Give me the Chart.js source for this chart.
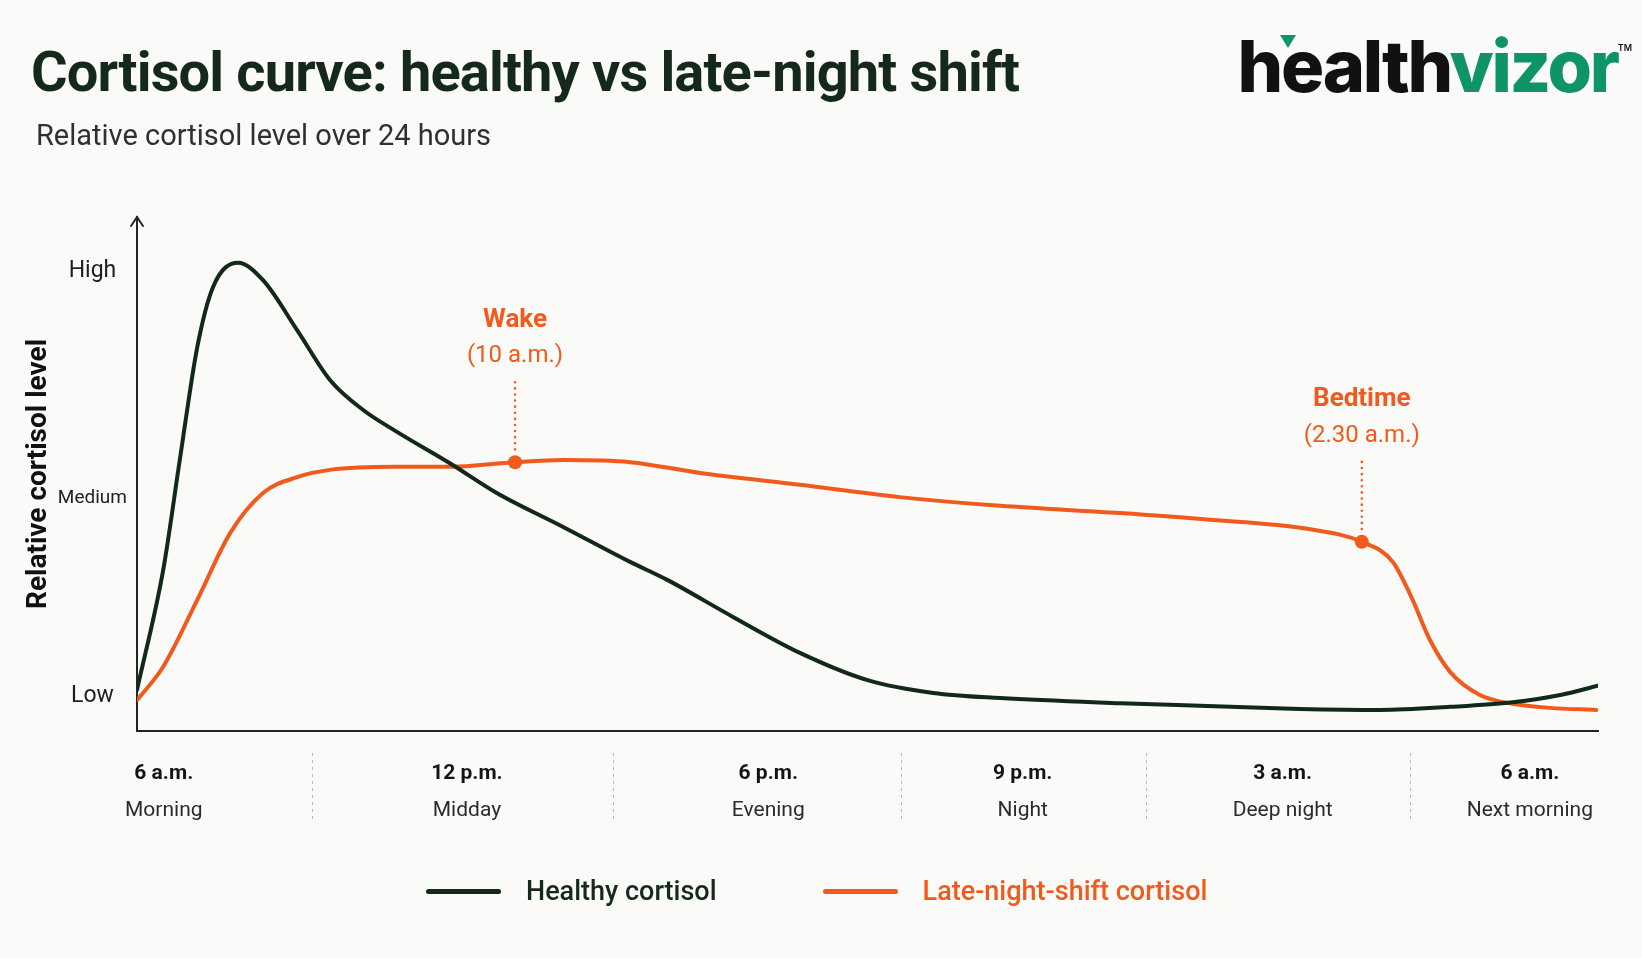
<!DOCTYPE html>
<html>
<head>
<meta charset="utf-8">
<script src="https://cdn.jsdelivr.net/npm/chart.js@4.4.1/dist/chart.umd.min.js"></script>
<style>
  html, body { margin: 0; padding: 0; background: #fafaf8; }
  #wrap { position: relative; width: 1642px; height: 958px; overflow: hidden; font-family: Roboto, sans-serif; }
  #cortisol { position: absolute; left: 0; top: 0; }
  h1 { position: absolute; left: 31px; top: 44px; margin: 0; font: 700 56px/56px Roboto, sans-serif; letter-spacing: -0.85px; color: #15281c; white-space: nowrap; }
  .sub { position: absolute; left: 36px; top: 121px; margin: 0; font: 400 29px/29px Roboto, sans-serif; color: #303030; white-space: nowrap; }
  .logo { position: absolute; right: 10px; top: 30px; font: 800 72px/72px Inter, sans-serif; letter-spacing: -2.3px; color: #111; white-space: nowrap; }
  .logo .green { color: #0e9468; }
  .logo .tri { position: absolute; left: 42px; top: 5px; width: 0; height: 0; border-left: 8px solid transparent; border-right: 8px solid transparent; border-top: 13px solid #0e9468; }
  .logo sup { font: 600 9px Inter, sans-serif; letter-spacing: 0; vertical-align: top; position: relative; top: 12px; left: 0px; }
  #legend { position: absolute; left: 426px; top: 873px; display: flex; align-items: center; }
  #legend .item { display: flex; align-items: center; margin-right: 106px; }
  #legend .swatch { display: inline-block; width: 75px; height: 5px; border-radius: 3px; margin-right: 25px; }
  #legend .text { font: 500 27px/36px Roboto, sans-serif; }
</style>
</head>
<body>
<div id="wrap">
  <canvas id="cortisol" width="1642" height="958"></canvas>
  <h1>Cortisol curve: healthy vs late-night shift</h1>
  <p class="sub">Relative cortisol level over 24 hours</p>
  <div class="logo"><span class="tri"></span>health<span class="green">vizor</span><sup>TM</sup></div>
  <div id="legend"></div>
</div>
<script>
// hours after 6 a.m. (0 = 6 a.m., 24 = 6 a.m. next day), level on a 0-100 relative scale
const healthyHours = [0, 0.43, 0.71, 0.99, 1.25, 1.66, 2.07, 2.63, 3.17, 3.71, 4.27, 5.14, 5.91, 7.0, 8.1, 8.71, 9.79, 10.89, 12.0, 13.08, 14.18, 16.15, 17.46, 19.1, 20.42, 21.57, 22.6, 23.38, 24];
const healthyLevel = [8.0, 31.3, 53.3, 74.7, 86.4, 91.1, 87.7, 78.0, 68.3, 62.5, 58.2, 52.1, 46.3, 39.7, 32.9, 29.4, 22.2, 15.2, 9.9, 7.4, 6.4, 5.4, 4.9, 4.3, 4.1, 4.7, 5.6, 7.0, 8.8];

const shiftHours = [0, 0.43, 0.99, 1.53, 2.07, 2.63, 3.17, 4.27, 5.14, 6.21, 7.0, 8.1, 9.25, 10.89, 12.53, 14.18, 16.15, 17.53, 19.25, 20.12, 20.63, 20.94, 21.24, 21.57, 22.06, 22.6, 23.21, 23.97];
const shiftLevel = [6.0, 12.5, 25.5, 38.5, 46.3, 49.4, 50.8, 51.4, 51.4, 52.3, 52.7, 52.3, 50.2, 47.9, 45.5, 43.8, 42.4, 41.2, 39.3, 36.8, 32.9, 25.9, 17.7, 11.5, 7.0, 5.3, 4.5, 4.1];

// wake / bedtime markers on the shift curve
const momentNames = ['Wake', 'Bedtime'];
const momentTimes = ['(10 a.m.)', '(2.30 a.m.)'];
const momentHours = [6.21, 20.12];
const momentLevel = [52.3, 36.8];

// axis labels
const tickHours = [0.44, 5.42, 10.37, 14.55, 18.82, 22.88];
const tickTimes = ['6 a.m.', '12 p.m.', '6 p.m.', '9 p.m.', '3 a.m.', '6 a.m.'];
const tickPeriods = ['Morning', 'Midday', 'Evening', 'Night', 'Deep night', 'Next morning'];
const dividerHours = [2.87, 7.82, 12.55, 16.57, 20.91];
const levelTicks = [6.8, 45.3, 89.5];
const levelLabels = ['Low', 'Medium', 'High'];

const DARK = '#10291b';
const ORANGE = '#f15a1c';
const AXIS = '#1b2a20';

function zip(xs, ys) {
  return xs.map((x, i) => ({ x: x, y: ys[i] }));
}

// dividers, y-axis arrow, marker captions
const extras = {
  id: 'extras',
  afterDraw(chart) {
    const ctx = chart.ctx;
    const x = chart.scales.x, x2 = chart.scales.x2, y = chart.scales.y;
    ctx.save();

    // arrow head on the y axis
    const ax = y.right, ay = chart.chartArea.top;
    ctx.strokeStyle = AXIS;
    ctx.lineWidth = 2;
    ctx.lineCap = 'round';
    ctx.beginPath();
    ctx.moveTo(ax - 6, ay + 9);
    ctx.lineTo(ax, ay);
    ctx.lineTo(ax + 6, ay + 9);
    ctx.stroke();

    // dashed separators between the time columns
    ctx.strokeStyle = '#b9b9b9';
    ctx.lineWidth = 1;
    ctx.lineCap = 'butt';
    ctx.setLineDash([3, 4]);
    dividerHours.forEach(h => {
      const px = Math.round(x.getPixelForValue(h)) + 0.5;
      ctx.beginPath();
      ctx.moveTo(px, x.top + 22);
      ctx.lineTo(px, x2.bottom - 11);
      ctx.stroke();
    });

    // captions above wake / bedtime points
    const meta = chart.getDatasetMeta(0);
    ctx.textAlign = 'center';
    ctx.textBaseline = 'middle';
    meta.data.forEach((pt, i) => {
      ctx.setLineDash([0.1, 6]);
      ctx.lineCap = 'round';
      ctx.lineWidth = 2.5;
      ctx.strokeStyle = ORANGE;
      ctx.beginPath();
      ctx.moveTo(pt.x, pt.y - 80);
      ctx.lineTo(pt.x, pt.y - 12);
      ctx.stroke();
      ctx.fillStyle = ORANGE;
      ctx.font = 'bold 26px Roboto';
      ctx.fillText(momentNames[i], pt.x, pt.y - 142);
      ctx.font = '24px Roboto';
      ctx.fillText(momentTimes[i], pt.x, pt.y - 106);
    });
    ctx.restore();
  }
};

// legend built as html from the chart's datasets
const htmlLegend = {
  id: 'htmlLegend',
  afterUpdate(chart) {
    const box = document.getElementById('legend');
    box.innerHTML = '';
    chart.data.datasets.forEach(ds => {
      if (!ds.inLegend) return;
      const item = document.createElement('div');
      item.className = 'item';
      const sw = document.createElement('span');
      sw.className = 'swatch';
      sw.style.background = ds.borderColor;
      const tx = document.createElement('span');
      tx.className = 'text';
      tx.style.color = ds.legendColor;
      tx.textContent = ds.label;
      item.appendChild(sw);
      item.appendChild(tx);
      box.appendChild(item);
    });
  }
};

const cortisolChart = new Chart(document.getElementById('cortisol'), {
  type: 'line',
  data: {
    datasets: [
      {
        label: 'Key moments',
        data: zip(momentHours, momentLevel),
        showLine: false,
        pointRadius: 7,
        pointBackgroundColor: ORANGE,
        pointBorderWidth: 0,
        inLegend: false
      },
      {
        label: 'Healthy cortisol',
        data: zip(healthyHours, healthyLevel),
        borderColor: DARK,
        backgroundColor: DARK,
        borderWidth: 4,
        pointRadius: 0,
        cubicInterpolationMode: 'monotone',
        borderCapStyle: 'round',
        inLegend: true,
        legendColor: '#16291d'
      },
      {
        label: 'Late-night-shift cortisol',
        data: zip(shiftHours, shiftLevel),
        borderColor: ORANGE,
        backgroundColor: ORANGE,
        borderWidth: 4,
        pointRadius: 0,
        cubicInterpolationMode: 'monotone',
        borderCapStyle: 'round',
        inLegend: true,
        legendColor: ORANGE
      }
    ]
  },
  options: {
    responsive: false,
    animation: false,
    layout: { padding: { top: 217, right: 44, bottom: 127, left: 0 } },
    plugins: {
      legend: { display: false },
      tooltip: { enabled: false }
    },
    scales: {
      x: {
        type: 'linear',
        position: 'bottom',
        weight: 0,
        min: 0,
        max: 24,
        afterBuildTicks: s => { s.ticks = tickHours.map(v => ({ value: v })); },
        afterFit: s => { s.height = 56; },
        grid: { display: false },
        border: { display: true, color: AXIS, width: 2 },
        ticks: {
          padding: 22,
          autoSkip: false,
          maxRotation: 0,
          color: '#141414',
          font: { family: 'Roboto', size: 21, weight: 'bold' },
          callback: (v, i) => tickTimes[i]
        }
      },
      x2: {
        type: 'linear',
        position: 'bottom',
        weight: 1,
        min: 0,
        max: 24,
        afterBuildTicks: s => { s.ticks = tickHours.map(v => ({ value: v })); },
        afterFit: s => { s.height = 44; },
        grid: { display: false },
        border: { display: false },
        ticks: {
          padding: 3,
          autoSkip: false,
          maxRotation: 0,
          color: '#2b2b2b',
          font: { family: 'Roboto', size: 21 },
          callback: (v, i) => tickPeriods[i]
        }
      },
      y: {
        min: 0,
        max: 100,
        afterBuildTicks: s => { s.ticks = levelTicks.map(v => ({ value: v })); },
        afterFit: s => { s.width = 137; },
        grid: { display: false },
        border: { display: true, color: AXIS, width: 2 },
        ticks: {
          padding: 2,
          crossAlign: 'center',
          color: '#1e1e1e',
          font: c => ({ family: 'Roboto', size: c.index === 1 ? 19 : 23 }),
          callback: (v, i) => levelLabels[i]
        },
        title: {
          display: true,
          text: 'Relative cortisol level',
          color: '#111',
          font: { family: 'Roboto', size: 28, weight: 'bold' },
          padding: { top: 22, bottom: 0 }
        }
      }
    }
  },
  plugins: [extras, htmlLegend]
});
</script>
</body>
</html>
